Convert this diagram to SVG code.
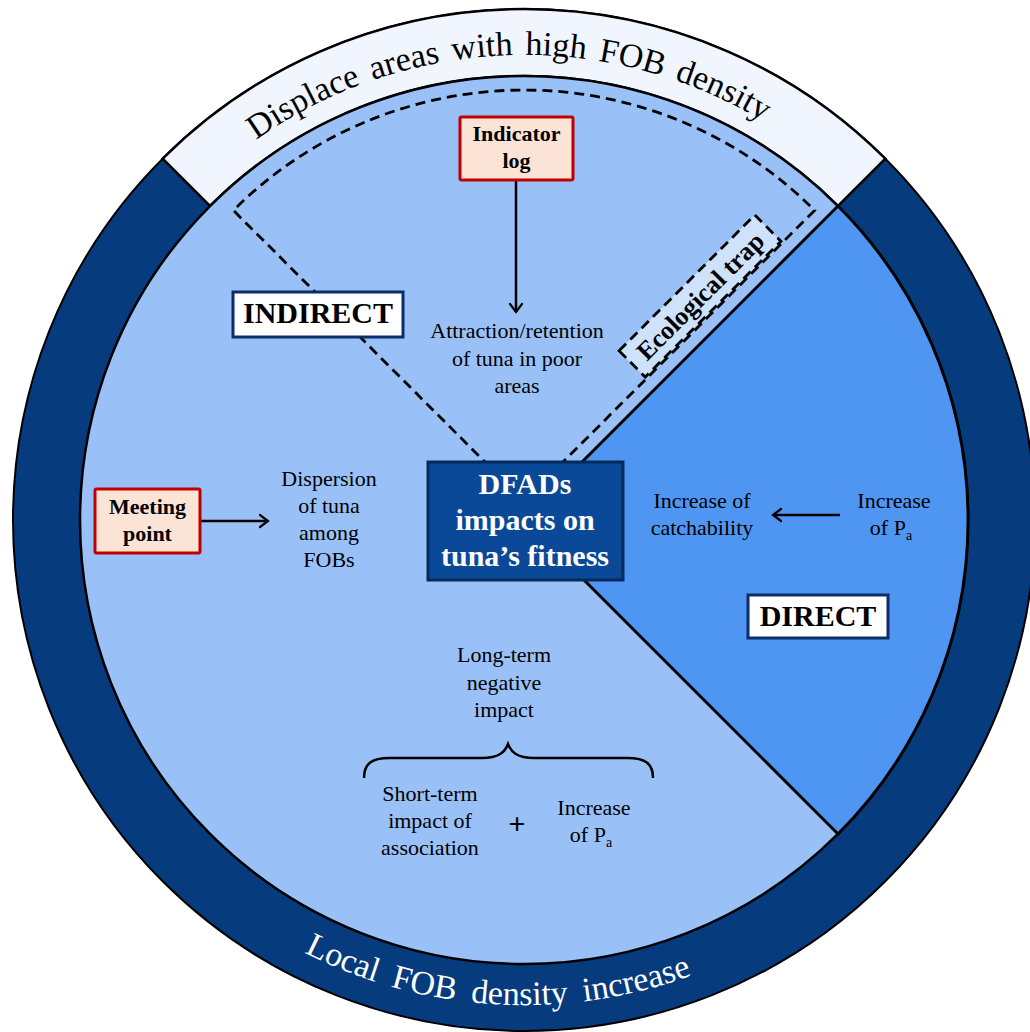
<svg xmlns="http://www.w3.org/2000/svg" width="1030" height="1032" viewBox="0 0 1030 1032">
<style>
.t{font-family:"Liberation Serif","Times New Roman",serif;font-size:22px;fill:#000;text-anchor:middle}
.b{font-family:"Liberation Serif","Times New Roman",serif;font-weight:bold;text-anchor:middle;fill:#000}
.ln{stroke:#000;stroke-width:2.5;fill:none}
.lbl{fill:#fff;stroke:#0b2d6b;stroke-width:3}
.src{fill:#fbe4d6;stroke:#c00000;stroke-width:3}
.dash{fill:none;stroke:#000;stroke-width:2.8;stroke-dasharray:10,6}
.sub{font-size:14px}
</style>
<defs>
<marker id="arr" markerWidth="16" markerHeight="16" refX="0" refY="0" viewBox="-10 -8 12 16" orient="auto" markerUnits="userSpaceOnUse">
<path d="M-8,-6 Q-2,-1.5 0,0 Q-2,1.5 -8,6" fill="none" stroke="#000" stroke-width="2.2" stroke-linecap="round"/>
</marker>
<path id="topArc" d="M87,361 A465,465 0 0 1 961,361"/>
<path id="botArc" d="M68.2,685.9 A485,485 0 0 0 979.8,685.9"/>
</defs>

<g id="background">
<circle cx="524" cy="520" r="511" fill="#063b7d" stroke="#000" stroke-width="2"/>
<path d="M162.7,158.7 A511,511 0 0 1 885.3,158.7 L838,206 A444,444 0 0 0 210,206 Z" fill="#f1f6fe" stroke="#000" stroke-width="2.5"/>
<circle cx="524" cy="520" r="444" fill="#99c1f8" stroke="#000" stroke-width="2.5"/>
<path d="M524,520 L838,206 A444,444 0 0 1 838,834 Z" fill="#4f96f3" stroke="#000" stroke-width="3"/>
<path d="M524,501 L233.4,210.4 A411,411 0 0 1 814.6,210.4 Z" class="dash"/>
</g>

<g id="ring-texts">
<text font-family="Liberation Serif, Times New Roman, serif" font-size="34" word-spacing="4" fill="#000"><textPath href="#topArc" startOffset="48.5%" text-anchor="middle">Displace areas with high FOB density</textPath></text>
<text font-family="Liberation Serif, Times New Roman, serif" font-size="34" word-spacing="7" fill="#fff"><textPath href="#botArc" startOffset="47.6%" text-anchor="middle">Local FOB density increase</textPath></text>
</g>

<g id="connectors">
<line x1="516" y1="180" x2="516" y2="312" class="ln" marker-end="url(#arr)"/>
<line x1="200" y1="521" x2="268" y2="521" class="ln" marker-end="url(#arr)"/>
<line x1="840" y1="515" x2="773" y2="515" class="ln" marker-end="url(#arr)"/>
<path d="M364,778 C364,764 371,758 390,758 L482,758 C499,758 505,752 508,744 C511,752 517,758 534,758 L627,758 C646,758 653,764 653,778" class="ln"/>
</g>

<g id="eco-trap" transform="translate(700,296) rotate(-45)">
<rect x="-96" y="-18.5" width="192" height="37" fill="#cfe2fb" class="dash" style="fill:#cfe2fb"/>
<text x="0" y="9" class="b" font-size="26">Ecological trap</text>
</g>

<g id="indirect">
<rect x="233" y="292" width="170" height="45" class="lbl"/>
<text x="318" y="323" class="b" font-size="30">INDIRECT</text>
</g>

<g id="direct">
<rect x="748" y="595" width="140" height="43" class="lbl"/>
<text x="818" y="626" class="b" font-size="30">DIRECT</text>
</g>

<g id="center">
<rect x="428" y="462" width="195" height="118" fill="#0a4898" stroke="#052a5a" stroke-width="3"/>
<text class="b" font-size="30" style="fill:#fff"><tspan x="525" y="494">DFADs</tspan><tspan x="525" y="530">impacts on</tspan><tspan x="525" y="566">tuna’s fitness</tspan></text>
</g>

<g id="indicator-log">
<rect x="460" y="117" width="113" height="63" rx="1.5" class="src"/>
<text class="b" font-size="22"><tspan x="516.5" y="141">Indicator</tspan><tspan x="516.5" y="168">log</tspan></text>
</g>

<g id="meeting-point">
<rect x="95" y="489" width="105" height="64" rx="1.5" class="src"/>
<text class="b" font-size="22"><tspan x="147.5" y="514">Meeting</tspan><tspan x="147.5" y="541">point</tspan></text>
</g>

<g id="attraction">
<text class="t"><tspan x="517" y="338">Attraction/retention</tspan><tspan x="517" y="366">of tuna in poor</tspan><tspan x="517" y="393">areas</tspan></text>
</g>

<g id="dispersion">
<text class="t"><tspan x="329" y="486">Dispersion</tspan><tspan x="329" y="513">of tuna</tspan><tspan x="329" y="540">among</tspan><tspan x="329" y="567">FOBs</tspan></text>
</g>

<g id="catchability">
<text class="t"><tspan x="702" y="508">Increase of</tspan><tspan x="702" y="535">catchability</tspan></text>
</g>

<g id="pa-direct">
<text class="t"><tspan x="894" y="508">Increase</tspan><tspan x="891" y="535">of P<tspan class="sub" dy="5">a</tspan></tspan></text>
</g>

<g id="long-term">
<text class="t"><tspan x="504" y="662">Long-term</tspan><tspan x="504" y="690">negative</tspan><tspan x="504" y="717">impact</tspan></text>
</g>

<g id="short-term">
<text class="t"><tspan x="430" y="801">Short-term</tspan><tspan x="430" y="828">impact of</tspan><tspan x="430" y="855">association</tspan></text>
</g>

<g id="plus">
<text x="517" y="834" class="b" font-size="30">+</text>
</g>

<g id="pa-long">
<text class="t"><tspan x="594" y="815">Increase</tspan><tspan x="591" y="842">of P<tspan class="sub" dy="5">a</tspan></tspan></text>
</g>
</svg>
